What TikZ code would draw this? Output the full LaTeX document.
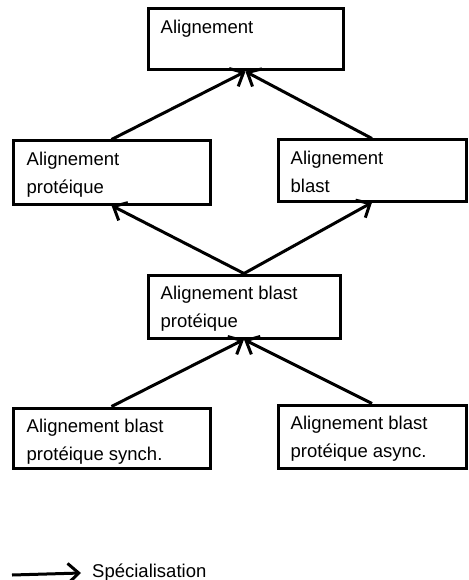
\documentclass[tikz,border=0pt]{standalone}
\usepackage{fontspec}
\setmainfont{Liberation Sans}
\usetikzlibrary{arrows.meta,calc}
\begin{document}
\begin{tikzpicture}[x=1pt,y=-1pt,
  box/.style={draw,line width=3pt,rectangle,inner sep=0pt},
  txt/.style={anchor=north west,inner sep=0pt,align=left,
    font=\fontsize{18.5}{28}\selectfont},
  spec/.style={line width=3pt,-{Straight Barb[length=11pt,width=20pt,line width=3pt]}}]
\useasboundingbox (0,0) rectangle (468,580);

% class boxes
\node[box,minimum width=195pt,minimum height=61pt] (al) at (245.5,39.5) {};
\node[box,minimum width=197pt,minimum height=63pt] (prot) at (111.5,172.5) {};
\node[box,minimum width=188pt,minimum height=61pt] (blast) at (372,170.5) {};
\node[box,minimum width=192pt,minimum height=63pt] (bp) at (244,306.5) {};
\node[box,minimum width=197pt,minimum height=60pt] (sync) at (111.5,438) {};
\node[box,minimum width=188pt,minimum height=63pt] (async) at (372,436.5) {};

% class names
\node[txt] (talign) at ($(al.north west)+(14,12.5)$) {Alignement};
\node[txt] (tprot) at ($(prot.north west)+(15,12.5)$) {Alignement\\protéique};
\node[txt] (tblast) at ($(blast.north west)+(14,12.5)$) {Alignement\\blast};
\node[txt] (tbp) at ($(bp.north west)+(14,12.5)$) {Alignement blast\\protéique};
\node[txt] (tsync) at ($(sync.north west)+(15,12.5)$) {Alignement blast\\protéique synch.};
\node[txt] (tasync) at ($(async.north west)+(14,12.5)$) {Alignement blast\\protéique async.};

% specialisation links
\draw[spec] (prot.north) -- (al.south);
\draw[spec] (blast.north) -- (al.south);
\draw[spec] (bp.north) -- (prot.south);
\draw[spec] (bp.north) -- (blast.south);
\draw[spec] (sync.north) -- (bp.south);
\draw[spec] (async.north) -- (bp.south);

% legend
\coordinate (ls) at (12,575);
\coordinate (le) at (81,573);
\draw[spec] (ls) -- (le);
\node[anchor=base west,inner sep=0pt,font=\fontsize{18.5}{22}\selectfont] (legend) at (92,577) {Spécialisation};
\end{tikzpicture}
\end{document}
